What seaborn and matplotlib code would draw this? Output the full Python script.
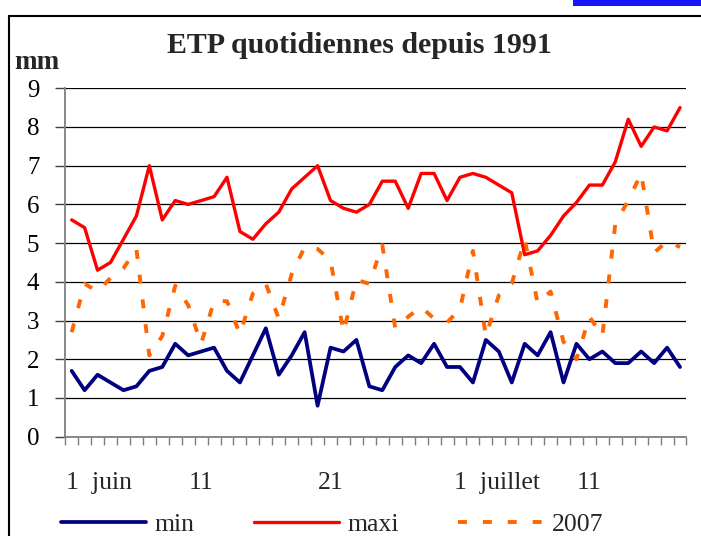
import numpy as np
import pandas as pd
import matplotlib
matplotlib.use("Agg")
import matplotlib.pyplot as plt
import seaborn as sns
from matplotlib.lines import Line2D
from matplotlib.patches import Rectangle

# ETP quotidiennes (mm), du 1 juin au 18 juillet
etp_min = [1.7, 1.2, 1.6, 1.4, 1.2, 1.3, 1.7, 1.8, 2.4, 2.1, 2.2, 2.3, 1.7, 1.4, 2.1, 2.8,
           1.6, 2.1, 2.7, 0.8, 2.3, 2.2, 2.5, 1.3, 1.2, 1.8, 2.1, 1.9, 2.4, 1.8, 1.8, 1.4,
           2.5, 2.2, 1.4, 2.4, 2.1, 2.7, 1.4, 2.4, 2.0, 2.2, 1.9, 1.9, 2.2, 1.9, 2.3, 1.8]
etp_maxi = [5.6, 5.4, 4.3, 4.5, 5.1, 5.7, 7.0, 5.6, 6.1, 6.0, 6.1, 6.2, 6.7, 5.3, 5.1, 5.5,
            5.8, 6.4, 6.7, 7.0, 6.1, 5.9, 5.8, 6.0, 6.6, 6.6, 5.9, 6.8, 6.8, 6.1, 6.7, 6.8,
            6.7, 6.5, 6.3, 4.7, 4.8, 5.2, 5.7, 6.05, 6.5, 6.5, 7.1, 8.2, 7.5, 8.0, 7.9, 8.5]
etp_2007 = [2.7, 3.95, 3.75, 4.1, 4.35, 4.85, 2.1, 2.6, 3.9, 3.4, 2.4, 3.5, 3.5, 2.65, 3.7, 3.95,
            3.05, 4.2, 4.9, 4.85, 4.55, 2.7, 4.05, 3.95, 4.95, 2.8, 3.1, 3.35, 3.05, 2.95, 3.3, 4.8,
            2.6, 3.65, 3.95, 5.1, 3.45, 3.75, 2.45, 2.0, 3.1, 2.6, 5.5, 6.1, 6.8, 4.75, 5.05, 4.9]
label_days = [0, 10, 20, 30, 40]
label_text = ["1  juin", "11", "21", "1  juillet", "11"]
y_ticks = list(range(10))

df = pd.DataFrame({"jour": np.arange(len(etp_min)), "min": etp_min,
                   "maxi": etp_maxi, "2007": etp_2007})

sns.set_theme(style="white")
plt.rcParams["font.family"] = ["Liberation Serif", "DejaVu Serif"]

fig = plt.figure(figsize=(7.01, 5.36), dpi=100)
ax = fig.add_axes([0.093, 0.1853, 0.8863, 0.650])

sns.lineplot(data=df, x="jour", y="min", ax=ax, color="#000080", lw=2.7, label="min")
sns.lineplot(data=df, x="jour", y="maxi", ax=ax, color="#ff0000", lw=2.4, label="maxi")
sns.lineplot(data=df, x="jour", y="2007", ax=ax, color="#ff6600", lw=2.8,
             linestyle=(0, (2.3, 4.1)), label="2007")

ax.set_xlim(-0.5, len(etp_min) - 0.5)
ax.set_ylim(0, 9)
ax.set_yticks(y_ticks)
ax.set_xticks(np.arange(-0.5, len(etp_min), 1))
ax.set_xticklabels([])
ax.set_xlabel("")
ax.set_ylabel("")
ax.set_axisbelow(True)
ax.yaxis.grid(True, color="black", lw=0.9)
ax.xaxis.grid(False)
for s in ["top", "right"]:
    ax.spines[s].set_visible(False)
for s in ["left", "bottom"]:
    ax.spines[s].set_color("#808080")
    ax.spines[s].set_linewidth(1.3)
ax.tick_params(axis="y", left=True, length=7.5, width=1, color="#404040", pad=11,
               labelsize=18, labelcolor="black")
ax.tick_params(axis="x", bottom=True, length=6, width=1, color="#808080")

# day labels: the "1" of "1 juin" / "1 juillet" sits on its category
for d, t in zip(label_days, label_text):
    if t.startswith("1 "):
        ax.text(d - 0.47, -0.15, t, transform=ax.get_xaxis_transform(),
                ha="left", va="baseline", fontsize=18.5)
    else:
        ax.text(d, -0.15, t, transform=ax.get_xaxis_transform(),
                ha="center", va="baseline", fontsize=18.5)

fig.text(0.512, 1 - 53 / 536, "ETP quotidiennes depuis 1991", ha="center",
         va="baseline", fontsize=21.5, fontweight="bold")
fig.text(14 / 701, 1 - 69 / 536, "mm", ha="left", va="baseline", fontsize=19.5,
         fontweight="bold")

ax.get_legend().remove()
handles, labels = ax.get_legend_handles_labels()
fig.legend(handles, labels, loc="center", bbox_to_anchor=(0.474, 0.022), ncol=3,
           frameon=False, fontsize=18.5, handlelength=3.3, handletextpad=0.35,
           columnspacing=2.3)

# chart frame and the blue strip at the top right
fig.add_artist(Line2D([9 / 701, 9 / 701], [0, 1 - 16 / 536], color="black", lw=1.5,
                      transform=fig.transFigure))
fig.add_artist(Line2D([9 / 701, 1], [1 - 16 / 536, 1 - 16 / 536], color="black", lw=1.5,
                      transform=fig.transFigure))
fig.add_artist(Rectangle((573 / 701, 1 - 6 / 536), 128 / 701, 6 / 536,
                         transform=fig.transFigure, color="#1414ff", lw=0))

fig.savefig("out.png", dpi=100)
